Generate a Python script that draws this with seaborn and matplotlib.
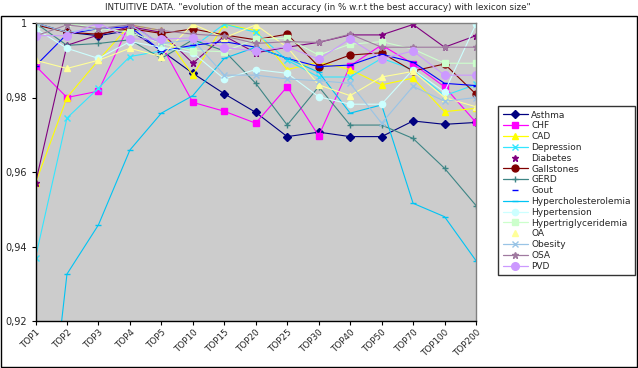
import numpy as np
import pandas as pd
import matplotlib
matplotlib.use("Agg")
import matplotlib.pyplot as plt
import seaborn as sns
from matplotlib.lines import Line2D
from matplotlib.patches import Rectangle
from matplotlib.ticker import FuncFormatter, FixedLocator

# ---------------- data ----------------
categories = ["TOP1", "TOP2", "TOP3", "TOP4", "TOP5", "TOP10", "TOP15", "TOP20",
              "TOP25", "TOP30", "TOP40", "TOP50", "TOP70", "TOP100", "TOP200"]

asthma = [1.0, 0.9975, 0.9966, 0.998, 0.9926, 0.9865, 0.981, 0.976, 0.9695, 0.9707, 0.9695, 0.9695, 0.9737, 0.9728, 0.9733]
chf = [0.9885, 0.980, 0.9817, 1.0, 0.9941, 0.9787, 0.9763, 0.9731, 0.9829, 0.9697, 0.9885, 0.9941, 0.989, 0.9829, 0.9733]
cad = [0.957, 0.980, 0.990, 0.9995, 0.998, 0.986, 0.9997, 0.998, 0.9875, 0.9895, 0.9875, 0.9834, 0.9852, 0.9762, 0.9771]
depression = [0.937, 0.9745, 0.9825, 0.991, 0.9925, 0.9935, 0.9997, 0.9975, 0.990, 0.9855, 0.9855, 0.9905, 0.9875, 0.9805, 0.9835]
diabetes = [0.957, 0.994, 0.9968, 0.999, 0.9975, 0.9892, 0.9965, 0.992, 0.9935, 0.9948, 0.9968, 0.9968, 0.9996, 0.9935, 0.9966]
gallstones = [0.9995, 0.9975, 0.997, 0.9985, 0.9972, 0.9984, 0.9968, 0.9955, 0.997, 0.9883, 0.9914, 0.992, 0.9871, 0.989, 0.9809]
gerd = [1.0, 0.994, 0.9945, 0.9955, 0.9905, 0.9955, 0.9925, 0.9838, 0.9726, 0.9829, 0.9726, 0.9726, 0.969, 0.961, 0.951]
gout = [0.9885, 0.997, 0.9985, 0.999, 0.9925, 0.994, 0.995, 0.9935, 0.9905, 0.9883, 0.9887, 0.9916, 0.9895, 0.9838, 0.9832]
hyperchol = [0.858, 0.9326, 0.9458, 0.9659, 0.9758, 0.9805, 0.9905, 0.9935, 0.9905, 0.9868, 0.9758, 0.978, 0.9516, 0.948, 0.9362]
hypertension = [0.9985, 0.9932, 0.9905, 0.995, 0.9935, 0.992, 0.985, 0.9875, 0.9865, 0.9802, 0.9782, 0.9782, 0.9875, 0.9815, 0.9997]
hypertrig = [1.0, 1.0, 0.9986, 0.9975, 0.9945, 0.9926, 0.9923, 0.9957, 0.9959, 0.9914, 0.9943, 0.995, 0.993, 0.9892, 0.9892]
oa = [0.990, 0.9878, 0.990, 0.9932, 0.991, 0.9997, 0.996, 0.9995, 0.9935, 0.9834, 0.9805, 0.9855, 0.987, 0.980, 0.9775]
obesity = [1.0, 0.9975, 0.9985, 0.9995, 0.9945, 0.9955, 0.986, 0.986, 0.985, 0.9845, 0.9838, 0.9731, 0.983, 0.979, 0.980]
osa = [0.9965, 0.9995, 0.9985, 0.9995, 0.998, 0.997, 0.9965, 0.9945, 0.995, 0.9948, 0.997, 0.9935, 0.9935, 0.9935, 0.9935]
pvd = [0.9966, 0.9966, 1.0, 0.9957, 0.9957, 0.996, 0.9934, 0.9925, 0.9936, 0.9903, 0.9957, 0.9904, 0.9925, 0.986, 0.986]

series_names = ["Asthma", "CHF", "CAD", "Depression", "Diabetes", "Gallstones", "GERD", "Gout",
                "Hypercholesterolemia", "Hypertension", "Hypertriglyceridemia", "OA", "Obesity", "OSA", "PVD"]
series_values = [asthma, chf, cad, depression, diabetes, gallstones, gerd, gout,
                 hyperchol, hypertension, hypertrig, oa, obesity, osa, pvd]

yticks = [0.92, 0.94, 0.96, 0.98, 1.0]

# ---------------- styles ----------------
colors = ["#000080", "#ff00ff", "#ffff00", "#33e6ff", "#800080", "#800000", "#3d8585", "#0000ff",
          "#00c4f4", "#ccffff", "#ccffcc", "#ffff99", "#99c4e6", "#a07aa0", "#cc99ff"]
markers = ["D", "s", "^", "x", "*", "o", "+", "_", "_", "o", "s", "^", "x", "*", "o"]
msizes = [4, 5, 5, 5, 5, 5, 5, 5, 5, 4.5, 5, 5, 5, 5, 5.5]

sns.set_theme(style="white")
plt.rcParams['font.family'] = ['DejaVu Sans']

W, H = 638, 368
fig = plt.figure(figsize=(W / 100, H / 100), dpi=100)
L, R, T, B = 35.5, 476, 23, 321
ax = fig.add_axes([L / W, 1 - B / H, (R - L) / W, (B - T) / H])
ax.set_facecolor("#cccccc")

pos = np.arange(len(categories))
for name, vals, c, m, ms in zip(series_names, series_values, colors, markers, msizes):
    d = pd.DataFrame({"pos": pos, "value": vals})
    sns.lineplot(data=d, x="pos", y="value", ax=ax, color=c, marker=m,
                 markersize=ms, markeredgecolor=c, markerfacecolor=c,
                 markeredgewidth=1.0, linewidth=0.8, estimator=None, sort=False)

ax.set_xlim(0, len(categories) - 1)
ax.set_ylim(0.92, 1.0)
ax.set_xlabel("")
ax.set_ylabel("")
ax.xaxis.set_major_locator(FixedLocator(pos))
ax.set_xticklabels(categories, rotation=45, ha="right", rotation_mode="anchor", fontsize=6.3)
ax.yaxis.set_major_locator(FixedLocator(yticks))
ax.yaxis.set_major_formatter(FuncFormatter(lambda v, p: "1" if abs(v - 1) < 1e-9 else f"{v:.2f}".replace(".", ",")))
ax.tick_params(axis="y", labelsize=7, length=3, width=0.8, color="black", left=True, pad=3)
ax.tick_params(axis="x", length=3, width=0.8, color="black", bottom=True, pad=2)
ax.grid(False)
for s in ["left", "bottom"]:
    ax.spines[s].set_color("black")
    ax.spines[s].set_linewidth(1.0)
for s in ["top", "right"]:
    ax.spines[s].set_color("#808080")
    ax.spines[s].set_linewidth(1.0)

# title
fig.text(318 / W, 1 - 7.5 / H,
         'INTUITIVE DATA. "evolution of the mean accuracy (in % w.r.t the best accuracy) with lexicon size"',
         ha="center", va="center", fontsize=6.3)

# outer frame
fig.patches.append(Rectangle((0.5 / W, 1.5 / H), (W - 2) / W, (H - 15 - 2.5) / H,
                             transform=fig.transFigure, fill=False, edgecolor="black", linewidth=1.0))

# legend
handles = []
for name, c, m, ms in zip(series_names, colors, markers, msizes):
    ls = "-"
    if name in ("Diabetes", "Gout", "OA"):
        ls = "none"
    handles.append(Line2D([0], [0], color=c, marker=m, markersize=ms, markeredgecolor=c,
                          markerfacecolor=c, linewidth=0.9, linestyle=ls))
leg = fig.legend(handles, series_names, loc="upper left", bbox_to_anchor=(498 / W, 1 - 106 / H),
                 frameon=True, fancybox=False, edgecolor="black", fontsize=6.5,
                 handlelength=2.8, handletextpad=0.4, labelspacing=0.2, borderpad=0.5,
                 borderaxespad=0)
leg.get_frame().set_linewidth(1.0)
leg.get_frame().set_facecolor("white")

fig.savefig("out.png", dpi=100, facecolor="white")
